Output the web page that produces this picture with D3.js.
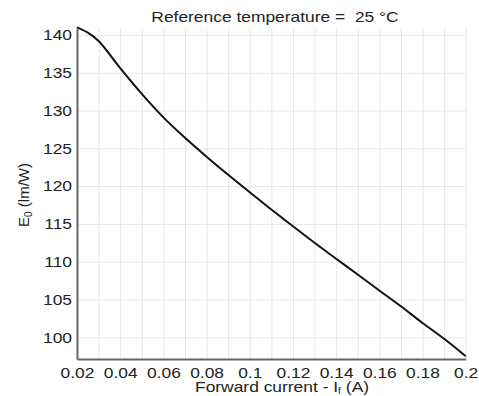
<!DOCTYPE html>
<html>
<head>
<meta charset="utf-8">
<script src="https://cdn.jsdelivr.net/npm/d3@7"></script>
<style>
  body { margin: 0; background: #fff; }
  text { font-family: "Liberation Sans", Arial, Helvetica, sans-serif; fill: #222; }
</style>
</head>
<body>
<script>
// forward current (A) and efficacy (lm/W)
var currentA = [0.02, 0.025, 0.03, 0.04, 0.05, 0.06, 0.07, 0.08, 0.09, 0.1,
                0.11, 0.12, 0.13, 0.14, 0.15, 0.16, 0.17, 0.18, 0.19, 0.2];
var efficacy = [141.0, 140.3, 139.2, 135.6, 132.2, 129.1, 126.4, 123.9, 121.5, 119.2,
                116.9, 114.7, 112.5, 110.4, 108.3, 106.2, 104.1, 101.9, 99.8, 97.5];

// tick labels
var xTicks = [0.02, 0.04, 0.06, 0.08, 0.1, 0.12, 0.14, 0.16, 0.18, 0.2];
var xTickLabels = ['0.02', '0.04', '0.06', '0.08', '0.1', '0.12', '0.14', '0.16', '0.18', '0.2'];
var xGrid = [0.03, 0.04, 0.05, 0.06, 0.07, 0.08, 0.09, 0.1, 0.11, 0.12,
             0.13, 0.14, 0.15, 0.16, 0.17, 0.18, 0.19, 0.2];
var yTicks = [100, 105, 110, 115, 120, 125, 130, 135, 140];

var W = 479, H = 396;
var LEFT = 77, RIGHT = 465.7, TOP = 28, BOTTOM = 359;
var FONT = 15;
var STRETCH = 1.16; // the reference glyphs are wider than Arial

var svg = d3.select('body').append('svg')
   .attr('width', W)
   .attr('height', H);

var x = d3.scaleLinear().domain([0.02, 0.2]).range([LEFT, RIGHT]);
var y = d3.scaleLinear().domain([97.13, 140.92]).range([BOTTOM, TOP]);

// stretch text horizontally to match reference widths
function stretch(sel, k){
   sel.each(function(){
      var w = this.getComputedTextLength();
      d3.select(this).attr('textLength', w * k).attr('lengthAdjust', 'spacingAndGlyphs');
   });
}

// grid
var gx = svg.append('g')
   .attr('transform', 'translate(0,' + BOTTOM + ')')
   .call(d3.axisBottom(x).tickValues(xGrid).tickSize(-(BOTTOM - TOP)).tickFormat(''));
gx.select('.domain').remove();
gx.selectAll('line').attr('stroke', '#e6e6e6').attr('stroke-width', 1);

var gy = svg.append('g')
   .attr('transform', 'translate(' + LEFT + ',0)')
   .call(d3.axisLeft(y).tickValues(yTicks).tickSize(-(RIGHT - LEFT)).tickFormat(''));
gy.select('.domain').remove();
gy.selectAll('line').attr('stroke', '#e6e6e6').attr('stroke-width', 1);

// curve
var line = d3.line()
   .x(function(d, i){ return x(currentA[i]); })
   .y(function(d){ return y(d); })
   .curve(d3.curveCatmullRom.alpha(0.5));

svg.append('path')
   .datum(efficacy)
   .attr('d', line)
   .attr('fill', 'none')
   .attr('stroke', '#111')
   .attr('stroke-width', 2);

// axes
var ax = svg.append('g')
   .attr('transform', 'translate(0,' + BOTTOM + ')')
   .call(d3.axisBottom(x).tickValues(xTicks).tickSize(0).tickSizeOuter(0).tickPadding(8)
      .tickFormat(function(d, i){ return xTickLabels[i]; }));
ax.select('.domain').attr('stroke', '#666').attr('stroke-width', 2);
ax.selectAll('text').attr('font-size', FONT).attr('font-family', null).attr('fill', '#222');
stretch(ax.selectAll('text'), STRETCH);

var ay = svg.append('g')
   .attr('transform', 'translate(' + LEFT + ',0)')
   .call(d3.axisLeft(y).tickValues(yTicks).tickSize(0).tickSizeOuter(0).tickPadding(5));
ay.select('.domain').attr('stroke', '#666').attr('stroke-width', 2);
ay.selectAll('text').attr('font-size', FONT).attr('font-family', null).attr('fill', '#222');
stretch(ay.selectAll('text'), STRETCH);

// title
var title = svg.append('text')
   .attr('x', 275)
   .attr('y', 21.5)
   .attr('text-anchor', 'middle')
   .attr('font-size', FONT)
   .attr('xml:space', 'preserve')
   .text('Reference temperature =  25 °C');
stretch(title, STRETCH);

// x axis title
var xt = svg.append('text')
   .attr('x', 195)
   .attr('y', 391.5)
   .attr('font-size', FONT);
xt.append('tspan').text('Forward current - I');
xt.append('tspan').attr('font-size', 9).attr('dy', 2).text('f');
xt.append('tspan').attr('dy', -2).text(' (A)');
stretch(xt, STRETCH);

// y axis title
var yt = svg.append('text')
   .attr('transform', 'translate(28.5,195) rotate(-90)')
   .attr('text-anchor', 'middle')
   .attr('font-size', FONT);
yt.append('tspan').text('E');
yt.append('tspan').attr('font-size', 10).attr('dy', 3).text('0');
yt.append('tspan').attr('dy', -3).text(' (lm/W)');
</script>
</body>
</html>
